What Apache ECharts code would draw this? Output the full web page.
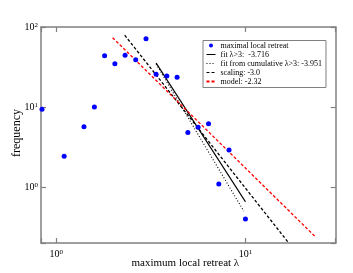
<!DOCTYPE html>
<html>
<head>
<meta charset="utf-8">
<script src="https://cdn.jsdelivr.net/npm/echarts@6/dist/echarts.min.js"></script>
<style>
html,body{margin:0;padding:0;background:#fff;}
#c{width:353px;height:273px;}
</style>
</head>
<body>
<div id="c"></div>
<script>
// data
const lambda = [0.84, 1.10, 1.40, 1.59, 1.80, 2.04, 2.31, 2.63, 2.98, 3.37, 3.84, 4.35, 4.96, 5.62, 6.38, 7.23, 8.19, 10.0];
const freq   = [9.4, 2.42, 5.67, 10.0, 43.8, 34.8, 44.3, 39.0, 71.4, 25.6, 24.4, 23.5, 4.8, 5.6, 6.2, 1.09, 2.9, 0.4];
const fitX   = [3.37, 10];    const fitY   = [35.5, 0.655];
const cumX   = [3.37, 9.8];   const cumY   = [34.5, 0.5];
const scaleX = [2.3, 16.8];   const scaleY = [79, 0.205];
const modelX = [1.985, 23.4]; const modelY = [73.5, 0.24];
const names = ['maximal local retreat', 'fit \u03bb>3:  -3.716', 'fit from cumulative \u03bb>3: -3.951', 'scaling: -3.0', 'model: -2.32'];

const FONT = '"Liberation Serif", "DejaVu Serif", serif';
const GRAY = '#808080';
const zip = (a, b) => a.map((v, i) => [v, b[i]]);
function powLabel(v) {
  const e = Math.log10(v), r = Math.round(e);
  if (Math.abs(e - r) > 1e-6) return '';
  return '{b|10}{s|' + r + '}';
}
const rich = {
  b: {fontSize: 10, fontFamily: FONT, color: '#000', verticalAlign: 'bottom', lineHeight: 10},
  s: {fontSize: 7, fontFamily: FONT, color: '#000', verticalAlign: 'top', lineHeight: 7, padding: [0, 0, 5, 0]}
};
function ax(extra) {
  return Object.assign({
    type: 'log', logBase: 10,
    axisLine: {show: true, onZero: false, lineStyle: {color: GRAY, width: 1.5}},
    axisTick: {show: true, inside: true, length: 5, lineStyle: {color: GRAY, width: 1.2}},
    minorTick: {show: false},
    splitLine: {show: false},
    nameMoveOverlap: false
  }, extra);
}
const hideSym = {opacity: 0, borderWidth: 0};
const chart = echarts.init(document.getElementById('c'), null, {renderer: 'canvas'});
chart.setOption({
  animation: false,
  backgroundColor: '#fff',
  grid: {left: 41, right: 17.3, top: 27, bottom: 30, containLabel: false, outerBoundsMode: 'none'},
  xAxis: [
    ax({min: 0.83, max: 30, position: 'bottom',
        name: 'maximum local retreat \u03bb', nameLocation: 'middle', nameGap: 15,
        nameTextStyle: {fontFamily: FONT, fontSize: 11, color: '#000', padding: [0, 6, 0, 0]},
        axisLabel: {show: true, margin: 6, formatter: powLabel, rich: rich}}),
    ax({min: 0.83, max: 30, position: 'top', axisLabel: {show: false}})
  ],
  yAxis: [
    ax({min: 0.2, max: 100, position: 'left',
        name: 'frequency', nameLocation: 'middle', nameGap: 18, nameRotate: 90,
        nameTextStyle: {fontFamily: FONT, fontSize: 12, color: '#000', padding: [0, 0, 0, 4]},
        axisLabel: {show: true, margin: 3, formatter: powLabel, rich: rich}}),
    ax({min: 0.2, max: 100, position: 'right', axisLabel: {show: false}})
  ],
  legend: {
    left: 203, top: 40.5, orient: 'vertical',
    itemWidth: 9, itemHeight: 4, itemGap: 1,
    padding: [1, 4, 2, 2.5],
    borderColor: GRAY, borderWidth: 1, backgroundColor: '#fff',
    textStyle: {fontFamily: FONT, fontSize: 8, color: '#000'},
    data: [
      {name: names[0]},
      {name: names[1], itemStyle: hideSym, lineStyle: {width: 1, color: '#000', type: 'solid'}},
      {name: names[2], itemStyle: hideSym, lineStyle: {width: 1, color: '#000', type: [1, 2]}},
      {name: names[3], itemStyle: hideSym, lineStyle: {width: 1, color: '#000', type: [3, 2]}},
      {name: names[4], itemStyle: hideSym}
    ]
  },
  series: [
    {name: names[0], type: 'scatter', data: zip(lambda, freq), symbol: 'circle', symbolSize: 5,
     itemStyle: {color: '#0000ff', opacity: 1}, z: 5},
    {name: names[1], type: 'line', data: zip(fitX, fitY), symbol: 'none',
     lineStyle: {color: '#000', width: 1.3, type: 'solid'}, itemStyle: {color: '#000'}},
    {name: names[2], type: 'line', data: zip(cumX, cumY), symbol: 'none',
     lineStyle: {color: '#000', width: 1.1, type: [1, 2]}, itemStyle: {color: '#000'}},
    {name: names[3], type: 'line', data: zip(scaleX, scaleY), symbol: 'none',
     lineStyle: {color: '#000', width: 1.3, type: [3, 2]}, itemStyle: {color: '#000'}},
    {name: names[4], type: 'line', data: zip(modelX, modelY), symbol: 'none',
     lineStyle: {color: '#ff0000', width: 1.3, type: [3, 2]}, itemStyle: {color: '#ff0000'}}
  ]
});
</script>
</body>
</html>
